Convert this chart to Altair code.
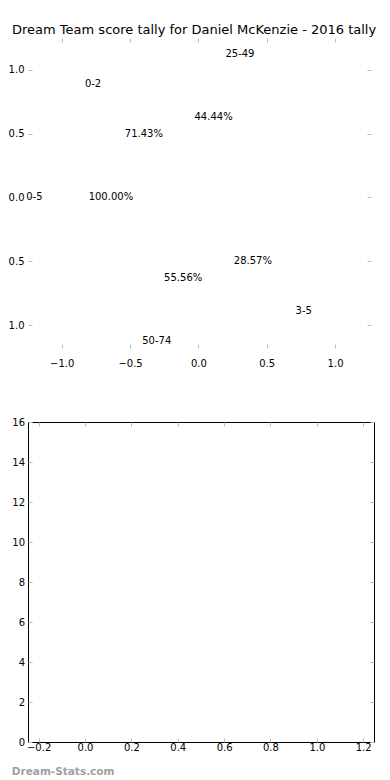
import math
import altair as alt
import pandas as pd

TITLE = "Dream Team score tally for Daniel McKenzie - 2016 tally"
FOOTER = "Dream-Stats.com"

# nested pie rings (outer -> inner), counts per slice
ring_outer_labels = ["25-49", "50-74"]
ring_outer_counts = [4, 5]
ring_mid_labels = ["0-2", "3-5"]
ring_mid_counts = [5, 2]
ring_inner_labels = ["0-5"]
ring_inner_counts = [1]

pie_x_ticks = [-1.0, -0.5, 0.0, 0.5, 1.0]
pie_y_ticks = [-1.0, -0.5, 0.0, 0.5, 1.0]

# bottom panel: empty bar chart
bar_x_values = []
bar_y_values = []
bar_x_ticks = [-0.2, 0.0, 0.2, 0.4, 0.6, 0.8, 1.0, 1.2]
bar_y_ticks = [0, 2, 4, 6, 8, 10, 12, 14, 16]

# ---- style / layout constants
FONT = "DejaVu Sans"
TICK_GRAY = "#bbbbbb"
W_TOP = 343
W_BOT = 346
H_TOP = 310
H_BOT = 320
LABEL_R = 1.14
PCT_R = 0.64

rows = []
for labels, counts in [(ring_outer_labels, ring_outer_counts),
                       (ring_mid_labels, ring_mid_counts),
                       (ring_inner_labels, ring_inner_counts)]:
    total = sum(counts)
    start = 0.0
    for lab, c in zip(labels, counts):
        theta = 360.0 * c / total
        mid = math.radians(start + theta / 2)
        lx, ly = LABEL_R * math.cos(mid), LABEL_R * math.sin(mid)
        rows.append({"text": lab, "x": lx, "y": ly,
                     "side": "left" if lx > 0 else "right", "kind": "label"})
        rows.append({"text": f"{100.0 * c / total:.2f}%",
                     "x": PCT_R * math.cos(mid), "y": PCT_R * math.sin(mid),
                     "side": "center", "kind": "pct"})
        start += theta
pie_df = pd.DataFrame(rows)

xs_top = alt.Scale(domain=[-1.2465, 1.263], nice=False, zero=False)
ys_top = alt.Scale(domain=[-1.18, 1.25], nice=False, zero=False)

def ax(orient, values, fmt, labels=True, pad=4, expr=None):
    kw = dict(orient=orient, values=values, format=fmt, grid=False, domain=False,
              tickColor=TICK_GRAY, tickSize=4, tickWidth=1, offset=-4,
              labels=labels, labelPadding=pad, labelFont=FONT, labelFontSize=10,
              labelColor="black", title=None)
    if expr:
        kw["labelExpr"] = expr
    return alt.Axis(**kw)

base_top = alt.Chart(pie_df)
left_txt = base_top.transform_filter("datum.side == 'left'").mark_text(
    align="left", baseline="middle", font=FONT, fontSize=10, color="black"
).encode(
    x=alt.X("x:Q", scale=xs_top, axis=ax("bottom", pie_x_ticks, ".1f", pad=10.5)),
    y=alt.Y("y:Q", scale=ys_top,
            axis=ax("left", pie_y_ticks, ".1f", pad=4,
                    expr="format(abs(datum.value), '.1f')")),
    text="text:N",
)
right_txt = base_top.transform_filter("datum.side == 'right'").mark_text(
    align="right", baseline="middle", font=FONT, fontSize=10, color="black"
).encode(
    x=alt.X("x:Q", scale=xs_top, axis=ax("top", pie_x_ticks, ".1f", labels=False)),
    y=alt.Y("y:Q", scale=ys_top, axis=ax("right", pie_y_ticks, ".1f", labels=False)),
    text="text:N",
)
pct_txt = base_top.transform_filter("datum.side == 'center'").mark_text(
    align="center", baseline="middle", font=FONT, fontSize=10, color="black"
).encode(
    x=alt.X("x:Q", scale=xs_top, axis=None),
    y=alt.Y("y:Q", scale=ys_top, axis=None),
    text="text:N",
)
top = alt.layer(left_txt, right_txt, pct_txt).resolve_axis(
    x="independent", y="independent"
).properties(
    width=W_TOP, height=H_TOP,
    title=alt.TitleParams(TITLE, font=FONT, fontSize=13, fontWeight="normal",
                          color="black", anchor="middle", frame="group",
                          baseline="alphabetic", offset=-9, dx=-5.4),
    view=alt.ViewBackground(stroke=None),
)

xs_bot = alt.Scale(domain=[-0.2242, 1.2250], nice=False, zero=False)
ys_bot = alt.Scale(domain=[0, 16], nice=False, zero=False)
bar_df = pd.DataFrame({"x": pd.Series(bar_x_values, dtype=float),
                       "y": pd.Series(bar_y_values, dtype=float)})
bars = alt.Chart(bar_df).mark_bar(color="#1f77b4").encode(
    x=alt.X("x:Q", scale=xs_bot, axis=ax("bottom", bar_x_ticks, ".1f", pad=0.5)),
    y=alt.Y("y:Q", scale=ys_bot, axis=ax("left", bar_y_ticks, "d", pad=3.5)),
)
bars2 = alt.Chart(bar_df).mark_bar(opacity=0).encode(
    x=alt.X("x:Q", scale=xs_bot, axis=ax("top", bar_x_ticks, ".1f", labels=False)),
    y=alt.Y("y:Q", scale=ys_bot, axis=ax("right", bar_y_ticks, "d", labels=False)),
)
footer = alt.Chart(pd.DataFrame({"t": [FOOTER]})).mark_text(
    align="left", baseline="middle", font=FONT, fontSize=10.5, fontWeight="bold",
    color="#a0a0a0"
).encode(x=alt.value(-16.2), y=alt.value(H_BOT + 30), text="t:N")

bottom = alt.layer(bars, bars2, footer).resolve_axis(
    x="independent", y="independent"
).properties(
    width=W_BOT, height=H_BOT,
    view=alt.ViewBackground(stroke="black", strokeWidth=1),
)

chart = alt.concat(top, bottom, columns=1, align="none", spacing=47).properties(
    padding={"left": 0, "top": 15, "right": 0, "bottom": 0}
).configure(font=FONT)

chart.save("out.html", embed_options={"renderer": "svg", "actions": False})
